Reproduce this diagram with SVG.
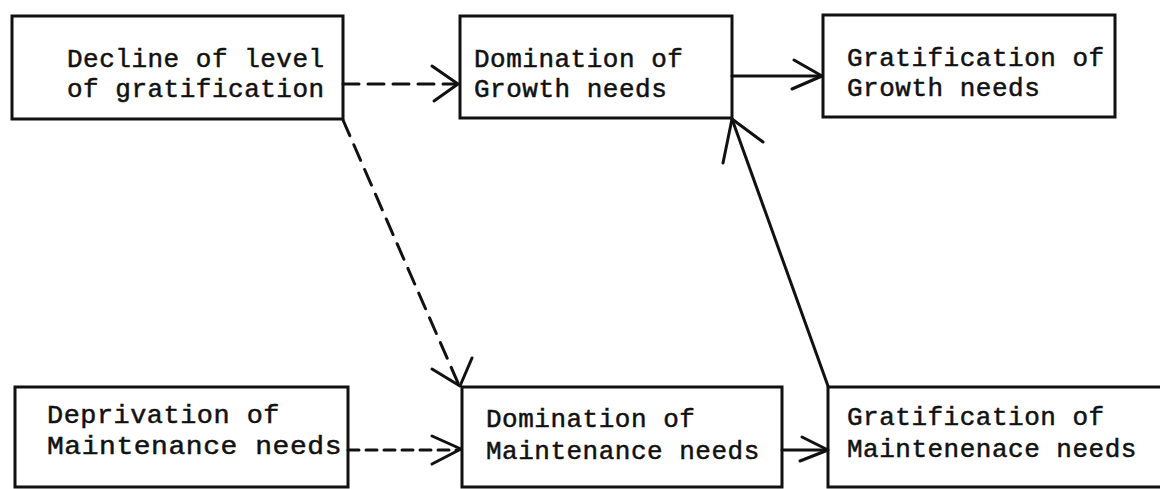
<svg xmlns="http://www.w3.org/2000/svg" width="1160" height="489" viewBox="0 0 1160 489">
<style>
  .box{fill:none;stroke:#111;stroke-width:3}
  .t{font-family:"Liberation Mono","Courier New",monospace;font-size:26px;letter-spacing:0.5px;fill:#111;stroke:#111;stroke-width:0.5}
  .c{fill:none;stroke:#111;stroke-width:3;stroke-linecap:round;stroke-linejoin:round}
  .dash1{stroke-dasharray:16 9}
  .dash2{stroke-dasharray:11 7}
  .dash3{stroke-dasharray:17 10}
</style>
<rect width="1160" height="489" fill="#fff"/>
<g id="decline">
  <rect class="box" x="12" y="16" width="331" height="103"/>
  <text class="t" x="67" y="67">Decline of level</text>
  <text class="t" x="67" y="97">of gratification</text>
</g>
<g id="dom-growth">
  <rect class="box" x="460" y="16" width="272" height="102"/>
  <text class="t" x="474" y="67">Domination of</text>
  <text class="t" x="474" y="97">Growth needs</text>
</g>
<g id="grat-growth">
  <rect class="box" x="823" y="15" width="292" height="102"/>
  <text class="t" x="847" y="66">Gratification of</text>
  <text class="t" x="847" y="96">Growth needs</text>
</g>
<g id="deprivation">
  <rect class="box" x="15" y="387" width="333" height="100"/>
  <text class="t" x="47" y="423" textLength="233" lengthAdjust="spacingAndGlyphs">Deprivation of</text>
  <text class="t" x="47" y="454" textLength="295" lengthAdjust="spacingAndGlyphs">Maintenance needs</text>
</g>
<g id="dom-maint">
  <rect class="box" x="462" y="387" width="320" height="100"/>
  <text class="t" x="486" y="427">Domination of</text>
  <text class="t" x="486" y="459">Maintenance needs</text>
</g>
<g id="grat-maint">
  <rect class="box" x="828" y="387" width="345" height="100"/>
  <text class="t" x="847" y="425">Gratification of</text>
  <text class="t" x="847" y="457">Maintenenace needs</text>
</g>
<g id="connectors">
  <path class="c dash1" d="M343 84 H456"/>
  <path class="c" d="M432 66 L458 84 L434 101"/>
  <path class="c" d="M732 76 H821"/>
  <path class="c" d="M794 60 L822 76 L792 89"/>
  <path class="c dash3" d="M343 120 L458 383"/>
  <path class="c" d="M432 369 L460 386 L472 358"/>
  <path class="c dash2" d="M348 450 H458"/>
  <path class="c" d="M432 436 L461 449 L432 464"/>
  <path class="c" d="M782 450 H826"/>
  <path class="c" d="M802 437 L828 450 L800 461"/>
  <path class="c" d="M828 386 L732 119"/>
  <path class="c" d="M723 163 L732 119 L763 142"/>
</g>
</svg>
